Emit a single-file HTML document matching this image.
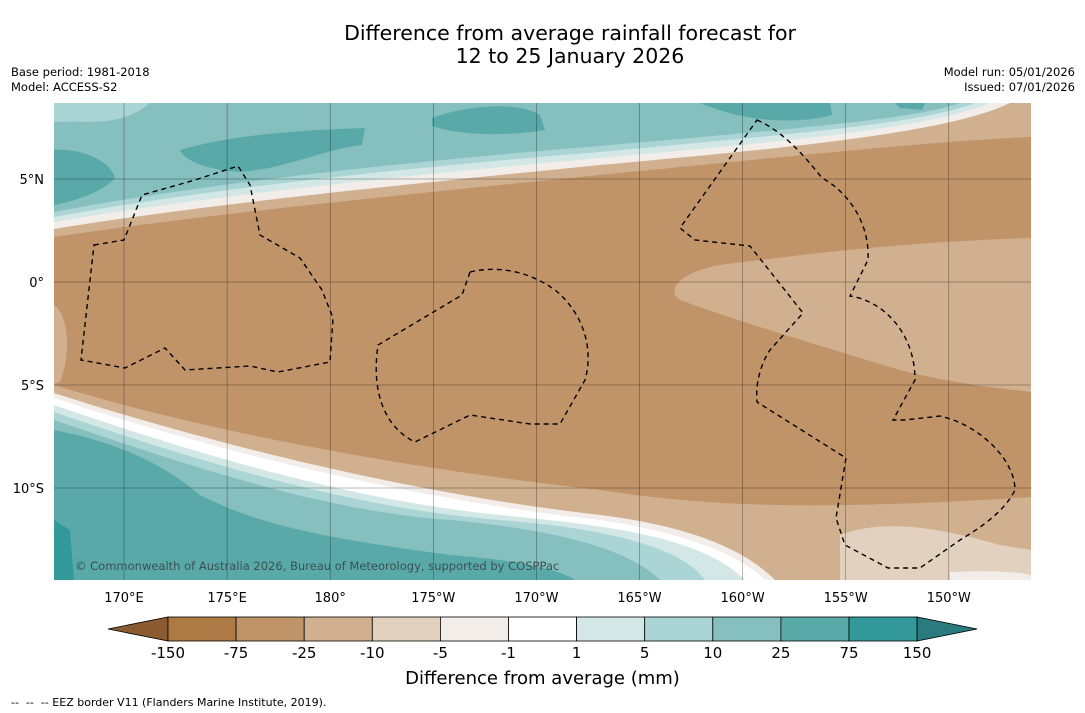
<!DOCTYPE html>
<html><head><meta charset="utf-8"><style>
body{margin:0;background:#fff;width:1085px;height:713px;overflow:hidden;font-family:"DejaVu Sans","Liberation Sans",sans-serif;position:relative}
.t{position:absolute;white-space:pre}
</style></head><body>
<div class="t" style="left:0;width:1140px;text-align:center;top:22px;font-size:20.5px;line-height:23px;color:#000">Difference from average rainfall forecast for
12 to 25 January 2026</div>
<div class="t" style="left:11px;top:65px;font-size:11.5px;line-height:15px">Base period: 1981-2018
Model: ACCESS-S2</div>
<div class="t" style="right:10px;top:65px;font-size:11.5px;line-height:15px;text-align:right">Model run: 05/01/2026
Issued: 07/01/2026</div>
<svg id="map" width="1085" height="713" style="position:absolute;left:0;top:0;font-family:'DejaVu Sans','Liberation Sans',sans-serif">
<defs><clipPath id="c"><rect x="54" y="103" width="977" height="477"/></clipPath></defs>
<g clip-path="url(#c)">
<rect x="54" y="103" width="977" height="477" fill="#c09468"/>
<path fill="#d1b090" d="M54,103 L54,237 C200,215 400,195 600,175 C800,155 950,140 1031,137 L1031,103Z"/>
<path fill="#f2ede8" d="M54,103 L54,229 C200,205 400,185 600,165 C800,147 950,132 1010,103Z"/>
<path fill="#d3e8e6" d="M54,103 L54,222 C200,197 400,176 600,158 C800,140 930,128 990,103Z"/>
<path fill="#aad5d4" d="M54,103 L54,217 C200,190 400,168 600,152 C800,133 920,124 975,103Z"/>
<path fill="#85bfbe" d="M54,103 L54,212 C200,184 400,162 600,146 C800,128 910,120 960,103Z"/>
<path fill="#aad5d4" d="M54,103 L54,122 C90,120 120,128 150,103Z"/>
<path fill="#5aa9a9" d="M54,150 C80,148 110,160 115,178 C105,190 80,200 54,205Z"/>
<path fill="#5aa9a9" d="M180,150 C230,135 300,130 365,128 L362,145 C320,150 290,168 240,172 C210,170 185,162 180,150Z"/>
<path fill="#5aa9a9" d="M432,118 C470,104 520,102 540,115 L545,130 C510,136 460,136 432,126Z"/>
<path fill="#5aa9a9" d="M700,103 L830,103 L832,115 C790,126 740,120 700,103Z"/>
<path fill="#5aa9a9" d="M895,103 L925,103 L922,110 L900,108Z"/>
<path fill="#d1b090" d="M54,385 C200,430 400,468 600,490 C700,505 800,512 1031,497 L1031,580 L54,580Z"/>
<path fill="#e3d1bf" d="M840,535 C880,520 930,525 1000,545 L1031,550 L1031,580 L840,580Z"/>
<path fill="#f2ede8" d="M950,572 C990,570 1020,572 1031,575 L1031,580 L950,580Z"/>
<path fill="#f2ede8" d="M54,393 C200,440 400,492 600,515 C680,525 740,545 775,580 L54,580Z"/>
<path fill="#ffffff" d="M54,398 C200,446 400,498 600,520 C670,530 735,550 765,580 L54,580Z"/>
<path fill="#d3e8e6" d="M54,405 C200,455 350,500 500,515 C600,525 700,535 745,580 L54,580Z"/>
<path fill="#aad5d4" d="M54,412 C200,462 350,508 500,520 C600,528 680,545 705,580 L54,580Z"/>
<path fill="#85bfbe" d="M54,420 C200,470 330,512 450,520 C560,530 630,550 660,580 L54,580Z"/>
<path fill="#5aa9a9" d="M54,430 C130,445 170,470 200,495 C250,520 300,535 450,555 C520,560 560,570 575,580 L54,580Z"/>
<path fill="#34999a" d="M54,520 L70,530 L74,580 L54,580Z"/>
<path fill="#d1b090" d="M1031,238 C900,242 800,255 720,265 C680,272 665,290 680,300 C720,315 800,340 900,370 C960,385 1000,388 1031,392Z"/>
<path fill="#d1b090" d="M54,305 C68,315 72,350 60,382 L54,384Z"/>
</g>
<g fill="none" stroke="#000" stroke-width="1.4" stroke-dasharray="5,4" clip-path="url(#c)">
<path d="M94,245 L124,240 L142,195 L195,180 L238,166 L250,185 L260,235 L300,258 L322,290 L333,318 L330,362 L278,372 L250,366 L185,370 L165,348 L125,368 L81,360 Z"/>
<path d="M470,272 C500,265 530,272 555,290 C580,310 595,345 585,380 L560,424 L530,424 L470,415 L415,442 C390,430 370,400 378,345 L462,295 Z"/>
<path d="M757,120 C780,130 800,150 822,178 C845,190 870,220 868,260 L850,296 C880,300 915,330 915,380 L893,420 L905,420 L940,416 C980,425 1015,460 1015,490 C1005,510 985,525 960,540 L920,568 L888,568 L845,545 L836,518 L846,458 L757,402 C755,380 763,360 770,350 L803,313 L750,246 L695,240 L680,228 Z"/>
</g>
<g stroke="#000" stroke-width="0.5" opacity="0.55" id="grid"></g>
<text x="75" y="570" font-size="11.5" fill="#3a5050">© Commonwealth of Australia 2026, Bureau of Meteorology, supported by COSPPac</text>
<g id="ticks" font-size="13" fill="#000"></g>
<g id="cbar"></g>
</svg>
<div class="t" style="left:0;width:1085px;text-align:center;top:668px;font-size:18px">Difference from average (mm)</div>
<div class="t" style="left:11px;top:696px;font-size:11px">--  --  -- EEZ border V11 (Flanders Marine Institute, 2019).</div>
<script>
const lonLabels=["170°E","175°E","180°","175°W","170°W","165°W","160°W","155°W","150°W"];
const latLabels=["5°N","0°","5°S","10°S"];
const levels=["-150","-75","-25","-10","-5","-1","1","5","10","25","75","150"];
const colors=["#ad7a45","#bf9468","#d1b090","#e3d1bf","#f2ede8","#ffffff","#d3e8e6","#aad5d4","#85bfbe","#5aa9a9","#34999a"];
const ns="http://www.w3.org/2000/svg";
const grid=document.getElementById('grid'),ticks=document.getElementById('ticks'),cb=document.getElementById('cbar');
function mk(t,a,p){const e=document.createElementNS(ns,t);for(const k in a)e.setAttribute(k,a[k]);p.appendChild(e);return e;}
const lonX=i=>124+i*103.1, latY=i=>179+i*103;
lonLabels.forEach((l,i)=>{const x=lonX(i);
 const g=mk('line',{x1:x,x2:x,y1:103,y2:580},grid);
 
 
 const t=mk('text',{x:x,y:602,'text-anchor':'middle'},ticks);t.textContent=l;
 
 });
latLabels.forEach((l,i)=>{const y=latY(i);
 const g=mk('line',{x1:54,x2:1031,y1:y,y2:y},grid);
 
 
 const t=mk('text',{x:44,y:y+5,'text-anchor':'end'},ticks);t.textContent=l;
 
 });
const x0=168,w=68.1,y0=617,h=24;
let p=mk('polygon',{points:`${x0},${y0} ${x0},${y0+h} 108,${y0+h/2}`,fill:"#8a5a30",stroke:"#000","stroke-width":0.8},cb);


colors.forEach((c,i)=>{const r=mk('rect',{x:x0+i*w,y:y0,width:w,height:h,fill:c,stroke:"#000","stroke-width":0.8},cb);
 
 });
const xe=x0+colors.length*w;
p=mk('polygon',{points:`${xe},${y0} ${xe},${y0+h} ${xe+60},${y0+h/2}`,fill:"#2a7b7e",stroke:"#000","stroke-width":0.8},cb);


levels.forEach((l,i)=>{const t=mk('text',{x:x0+i*w,y:658,'text-anchor':'middle','font-size':15},cb);t.textContent=l;
 
 });
</script>
</body></html>
